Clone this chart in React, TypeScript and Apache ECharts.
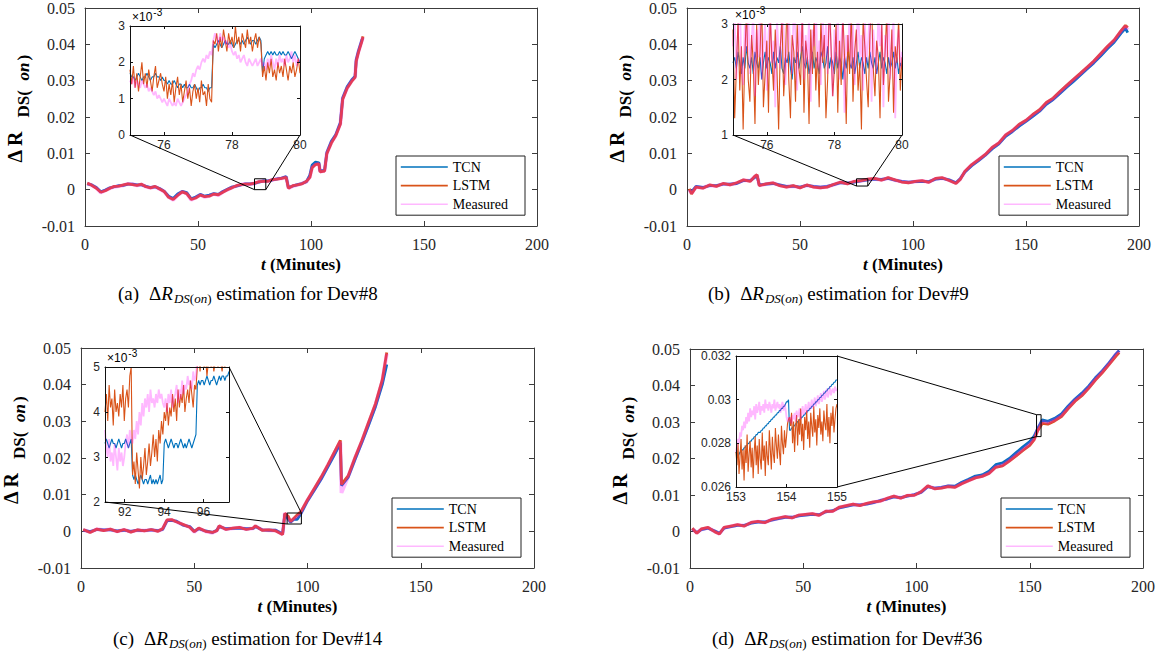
import React, { useEffect, useRef } from 'react';
import * as echarts from 'echarts';

const SERIF = 'Liberation Serif';
const SANS = 'Liberation Sans';
const C_TCN = '#0072BD';
const C_LSTM = '#D95319';
const C_MEAS = '#FF00FF';
const MEAS_OPACITY = 0.28;
const SERIES_NAMES = ['TCN', 'LSTM', 'Measured'];

// ---------- Panel (a) Dev#8 : main plot (values in 1e-4) ----------
const tA = [1,3,5,7,9, 11,13,15,17,19, 21,23,25,27,29, 31,33,35,37,39, 41,43,45,47,49, 51,53,55,57,59, 61,63,65,67,69, 71,73,75,77,79, 81,83,85,87,89, 90,92,94,96,98, 99.5,100.5,102,103.5,104, 106,107,109,111,113, 114,116,118,119.5,120, 121,122.5,123];
const measA = [17,12,5,-8,-2, 4,8,10,12,16, 15,12,14,8,5, 8,2,-5,-20,-28, -15,-6,-10,-28,-22, -14,-20,-17,-12,-15, -6,0,6,10,14, 16,15,17,22,24, 23,27,30,31,35, 4,10,13,17,22, 35,62,70,72,50, 52,100,130,150,182, 250,280,300,310,355, 380,410,420];
const tcnA = [16,13,6,-6,-1, 5,8,11,12,15, 15,13,13,9,6, 8,3,-4,-18,-24, -12,-5,-8,-25,-20, -13,-18,-15,-11,-13, -5,1,7,10,13, 16,16,17,21,24, 24,27,30,32,36, 6,10,14,17,22, 40,68,76,74,52, 53,102,133,152,185, 252,283,302,312,357, 382,412,418];
const lstmA = [18,12,4,-7,-3, 4,9,10,13,16, 14,12,15,8,5, 9,2,-5,-21,-27, -16,-6,-11,-27,-23, -15,-19,-18,-12,-14, -7,0,5,11,14, 15,15,18,22,23, 23,28,29,31,34, 4,11,13,16,23, 34,60,69,71,49, 51,99,128,149,180, 248,279,298,309,353, 378,408,422];

// inset (a): t = 75 .. 80, step 0.05
const insTcnA = [17,16,16,15,16,17,16,15,16,16, 17,16,15,16,16,17,16,16,15,16, 15,15,14,15,14,14,15,14,13,14, 14,13,14,13,13,14,13,13,14,13, 12,13,13,14,13,13,12,13,13,25, 24,25,26,25,24,25,26,25,25,26, 25,24,25,26,26,25,26,25,26,27, 26,25,26,26,25,26,27,26,17,21, 22,23,22,23,22,23,22,22,23,22, 23,22,22,23,22,21,22,23,22,21,20];
const insLstmA = [18,14,19,13,17,12,16,20,14,17, 13,18,15,12,16,19,13,15,17,14, 12,16,10,14,11,15,9,13,16,11, 14,9,12,15,10,13,8,12,14,10, 13,9,15,11,12,8,14,10,9,26, 25,28,23,27,24,29,26,23,28,25, 27,24,30,25,27,23,28,26,24,29, 25,27,23,26,28,24,27,25,16,19, 15,20,17,21,16,18,15,20,17,19, 16,21,18,15,19,17,20,16,18,21,17];
const insMeasA = [15,14,16,13,15,14,13,15,14,13, 14,12,13,12,11,12,10,11,10,9, 10,9,8,10,9,8,9,8,10,9, 8,9,10,11,12,14,15,17,16,18, 19,18,20,21,20,22,21,23,22,26, 28,27,25,28,26,27,25,26,24,25, 23,22,23,21,22,20,21,22,20,19, 21,20,19,20,21,19,20,21,19,20, 18,21,19,22,20,18,21,19,22,20, 21,19,22,20,21,23,20,22,19,21,20];

// ---------- Panel (b) Dev#9 ----------
const tB = [1,2,4,7,10,13,16,19,22,25, 28,30,31,32,35,38,41,44,47,50, 53,56,59,62,65,68,71,74,77,80, 83,86,89,92,95,98,101,104,107,110, 113,116,119,121,123,126,129,132,135,138, 141,144,147,150,153,156,159,162,165,168, 171,174,177,180,183,186,189,192,194,195];
const measB = [0,-10,8,5,12,10,16,14,18,26, 24,36,40,12,15,18,12,8,10,6, 12,8,6,8,14,20,17,22,24,28, 30,27,32,26,22,20,22,24,21,30, 32,26,18,30,50,68,82,96,115,128, 150,162,178,190,205,218,238,250,268,285, 302,318,335,352,372,392,410,435,450,440];
const tcnB = [0,-6,9,6,11,11,15,15,17,25, 25,34,38,13,15,17,13,9,10,7, 12,9,7,9,14,19,18,21,24,27, 29,28,31,26,23,21,22,23,22,29, 31,27,19,31,49,66,80,95,112,126, 147,160,175,188,202,216,235,248,265,282, 298,315,332,349,368,388,406,430,444,432];
const lstmB = [2,-12,7,4,13,9,17,13,19,27, 23,37,41,11,16,19,11,7,11,5, 13,7,5,7,15,21,16,23,25,29, 31,26,33,27,21,19,23,25,20,31, 33,25,17,29,51,69,83,97,116,129, 151,163,180,191,207,220,240,252,270,287, 304,320,337,354,374,394,412,437,452,446];

// inset (b): t = 75 .. 80, step 0.05
const insTcnB = [23,24,22,25,23,21,24,22,26,23, 22,24,21,25,23,22,24,20,23,25, 22,24,23,21,25,22,24,23,26,22, 21,24,23,25,22,20,24,23,25,22, 24,26,23,22,24,21,23,25,22,24, 23,21,25,24,22,23,26,22,24,23, 21,25,22,24,23,20,24,22,25,23, 22,24,21,23,25,22,24,23,21,24, 22,25,23,22,24,21,23,25,22,24, 23,21,24,22,23,25,22,24,21,23,22];
const insLstmB = [29,13,22,31,18,26,11,24,33,20, 16,28,23,12,30,19,25,34,15,21, 27,14,32,24,18,29,22,11,26,31, 17,23,35,20,13,28,25,16,30,22, 19,33,14,27,24,12,29,21,32,18, 25,15,31,23,28,13,20,34,26,17, 22,30,14,27,19,32,24,12,28,21, 33,16,25,29,18,23,11,31,26,20, 15,28,34,22,17,27,24,13,30,19, 25,32,16,21,29,14,26,23,31,18,24];
const insMeasB = [26,31,20,28,35,22,19,30,25,33, 21,27,32,17,29,24,34,20,26,30, 18,28,33,23,27,15,31,25,22,34, 29,19,26,32,24,21,35,27,18,30, 25,33,20,28,23,31,16,29,26,34, 22,27,19,32,24,30,21,35,26,17, 29,23,33,20,27,31,14,28,25,32, 22,30,19,26,34,24,28,18,31,23, 27,33,16,29,25,21,32,26,30,15, 28,24,34,20,27,31,13,26,29,22,25];

// ---------- Panel (c) Dev#14 ----------
const tC = [1,4,7,10,13,16,19,22,25,28, 31,34,36,38,40,42,45,48,50,52, 55,58,60,61,64,67,70,73,76,77, 80,83,86,89,90,91.5,92.5,94,95.5,97, 100,103,106,109,112,114.5,115,118,121,124, 127,130,133,135];
const measC = [4,-2,6,3,5,0,4,-1,3,2, 4,1,6,30,31,27,18,12,-2,8, 0,-4,2,14,6,8,10,6,8,14, 4,3,2,-8,50,35,26,34,40,50, 85,115,145,180,215,245,105,150,200,245, 295,345,410,485];
const tcnC = [3,-1,5,4,4,1,3,0,3,2, 4,2,5,29,30,28,17,13,0,7, 1,-3,3,13,7,8,9,7,8,13, 4,3,3,-7,47,33,25,33,33,47, 83,112,142,176,210,240,125,148,196,242, 290,340,400,455];
const lstmC = [5,-3,6,2,6,-1,5,-2,4,1, 5,0,7,31,32,26,19,11,-1,9, 0,-3,2,15,5,9,11,5,9,15, 3,4,1,-9,49,41,27,36,45,53, 86,117,148,182,218,248,128,152,202,248, 298,348,413,488];

// inset (c): t = 91 .. 97.3, step 0.07
const insTcnC = [33,34,33,32,33,34,33,33,32,33, 34,33,32,33,33,34,33,32,33,34, 26,25,26,25,24,25,26,25,24,25, 25,24,25,26,24,25,24,25,24,25, 26,24,25, 33,34,33,32,33,34,33,32,33,33, 32,33,34,33,32,33,32,33,34,33, 32,33,34,35, 46,47,46,47,47,46,47,48,47,46, 47,47,48,47,46,47,48,47,48,48, 47,48,48,49];
const insLstmC = [40,44,38,46,41,43,37,45,40,42, 39,44,41,46,38,43,45,41,48,50, 26,29,24,31,27,23,30,25,28,32, 26,29,33,28,31,35,30,34,29,36, 33,38,35, 40,38,42,37,41,39,44,40,43,38, 45,41,44,42,46,40,43,45,42,47, 44,41,46,45, 50,52,49,53,51,50,52,48,51,53, 50,52,49,51,53,50,52,51,49,52, 50,53,51,52];
const insMeasC = [36,32,30,34,29,31,28,33,30,27, 32,29,31,28,30,33,35,32,36,34, 33,36,34,38,35,40,37,42,39,43, 41,44,40,45,42,43,41,44,42,45, 43,44,42, 41,43,40,44,42,45,41,43,44,46, 42,45,43,47,44,46,45,48,46,47, 45,49,47,48, 52,54,51,55,53,52,54,51,53,55, 52,54,53,51,55,52,54,53,52,55, 53,54,52,55];

// ---------- Panel (d) Dev#36 ----------
const tD = [1,3,5,8,11,13,15,18,21,24, 27,30,33,36,39,42,45,48,51,54, 57,60,63,66,69,72,75,78,81,84, 87,90,93,96,99,102,105,108,111,114, 117,120,123,126,129,132,135,138,141,144, 147,150,152,153.5,155.5,158,161,164,167,170, 173,176,179,182,185,188,189.5];
const measD = [8,-4,6,10,0,-6,10,14,18,16, 24,27,25,32,36,40,38,44,46,48, 45,55,56,66,70,74,72,76,80,84, 90,96,92,98,100,108,124,118,120,124, 122,132,140,148,152,160,178,182,195,210, 225,240,255,280,302,298,306,318,340,360, 375,395,418,438,460,485,495];
const tcnD = [7,-3,5,9,1,-5,9,13,17,17, 23,26,26,31,35,39,39,43,45,47, 46,54,57,65,69,73,73,75,79,85, 89,95,93,97,101,107,123,119,121,125, 124,135,143,152,155,165,183,188,200,216, 232,246,262,282,306,302,310,322,344,363, 379,398,421,440,462,486,496];
const lstmD = [9,-5,7,11,-1,-7,11,15,19,15, 25,28,24,33,37,41,37,45,47,49, 44,56,55,67,71,75,71,77,81,83, 91,97,91,99,99,109,125,117,119,123, 121,131,139,147,151,159,176,180,193,207, 222,236,252,276,296,294,303,315,337,357, 372,392,415,435,457,480,490];

// inset (d): t = 153 .. 155, step 0.02
const insTcnD = [276,275,274,275,276,276,277,277,278,278, 279,279,280,280,281,281,282,282,283,283, 284,284,285,285,285,286,286,287,287,288, 288,289,289,290,290,291,291,292,292,293, 293,294,294,295,295,296,296,297,297,298, 299,299,300, 286,286,287,287,288,288,289,289,290,290, 291,291,292,292,293,293,294,294,295,295, 296,296,297,297,298,298,299,299,300,300, 301,301,302,302,303,303,304,304,305,305, 306,306,307,307,308,308,309,309];
const insLstmD = [276,270,280,266,274,282,268,277,263,279, 271,284,267,275,281,269,278,264,276,283, 270,279,266,282,273,268,285,272,279,265, 281,274,270,286,277,268,283,275,271,287, 279,273,284,276,270,288,280,275,286,278, 283,289,291, 292,288,294,280,290,276,287,293,279,291, 284,296,281,289,277,292,286,295,282,290, 278,294,288,283,297,285,291,279,293,287, 296,284,290,281,295,289,286,298,283,292, 280,294,288,297,285,291,296,298];
const insMeasD = [276,279,282,280,285,283,288,286,290,287, 292,289,294,290,296,292,295,293,297,291, 298,294,296,299,293,297,295,298,294,300, 296,298,295,299,297,294,298,296,300,295, 297,299,296,298,294,297,299,295,298,296, 292,290,292, 290,292,289,293,291,294,290,295,292,293, 296,291,294,297,293,295,298,294,296,299, 295,297,300,296,298,301,297,299,302,298, 300,303,299,301,304,300,302,305,301,303, 306,302,304,305,303,306,304,305];

// ---------- axis settings ----------
const MAIN_X = { min: 0, max: 200, interval: 50 };
const MAIN_Y = { min: -0.01, max: 0.05, interval: 0.01 };

const panels = [
  {
    label: 'a', dev: '8',
    main: { left: 85, top: 7, width: 452, height: 219 },
    inset: { left: 130, top: 26, width: 170, height: 109 },
    t: tA, tcn: tcnA, lstm: lstmA, meas: measA,
    ins: { t0: 75, dt: 0.05, tcn: insTcnA, lstm: insLstmA, meas: insMeasA, xMin: 75, xMax: 80, xTicks: [76, 78, 80], xInterval: 0, yMin: 0, yMax: 0.003, yStep: 0.001, milli: true },
    links: [['bl', 'bl'], ['br', 'br']],
    legend: { left: 396, top: 156 },
    caption: { x: 118, y: 293 },
  },
  {
    label: 'b', dev: '9',
    main: { left: 687, top: 7, width: 452, height: 219 },
    inset: { left: 733, top: 24, width: 169, height: 111 },
    t: tB, tcn: tcnB, lstm: lstmB, meas: measB,
    ins: { t0: 75, dt: 0.05, tcn: insTcnB, lstm: insLstmB, meas: insMeasB, xMin: 75, xMax: 80, xTicks: [76, 78, 80], xInterval: 0, yMin: 0.001, yMax: 0.003, yStep: 0.001, milli: true },
    links: [['bl', 'bl'], ['br', 'br']],
    legend: { left: 999, top: 156 },
    caption: { x: 708, y: 293 },
  },
  {
    label: 'c', dev: '14',
    main: { left: 81, top: 348, width: 453, height: 220 },
    inset: { left: 105, top: 367, width: 124, height: 135 },
    t: tC, tcn: tcnC, lstm: lstmC, meas: measC,
    ins: { t0: 91, dt: 0.07, tcn: insTcnC, lstm: insLstmC, meas: insMeasC, xMin: 91, xMax: 97.3, xTicks: [92, 94, 96], xInterval: 0, yMin: 0.002, yMax: 0.005, yStep: 0.001, milli: true },
    links: [['bl', 'bl'], ['tr', 'tr']],
    legend: { left: 392, top: 498 },
    caption: { x: 113, y: 638 },
  },
  {
    label: 'd', dev: '36',
    main: { left: 690, top: 349, width: 453, height: 219 },
    inset: { left: 736, top: 356, width: 101, height: 131 },
    t: tD, tcn: tcnD, lstm: lstmD, meas: measD,
    ins: { t0: 153, dt: 0.02, tcn: insTcnD, lstm: insLstmD, meas: insMeasD, xMin: 153, xMax: 155, xTicks: null, xInterval: 1, yMin: 0.026, yMax: 0.032, yStep: 0.002, milli: false },
    links: [['tr', 'tl'], ['br', 'bl']],
    legend: { left: 1001, top: 498 },
    caption: { x: 712, y: 638 },
  },
];

function pairs(ts: number[], vs: number[]) {
  return vs.map((v, i) => [ts[i], v / 1e4]);
}
function gridPairs(t0: number, dt: number, vs: number[]) {
  return vs.map((v, i) => [Math.round((t0 + i * dt) * 1e4) / 1e4, v / 1e4]);
}

let _ctx: CanvasRenderingContext2D | null = null;
function tw(text: string, size: number, family: string, weight = 'normal', style = 'normal') {
  if (!_ctx) _ctx = document.createElement('canvas').getContext('2d');
  if (!_ctx) return text.length * size * 0.5;
  _ctx.font = `${style} ${weight} ${size}px "${family}"`;
  return _ctx.measureText(text).width;
}

const MAIN_AXIS_COLOR = '#3c3c3c';
const INS_AXIS_COLOR = '#111';

function xAxisDef(gridIndex: number, inset: boolean, top: boolean, cfg: any) {
  const col = inset ? INS_AXIS_COLOR : MAIN_AXIS_COLOR;
  const a: any = {
    type: 'value', gridIndex, min: cfg.min, max: cfg.max, position: top ? 'top' : 'bottom',
    axisLine: { show: true, onZero: false, lineStyle: { color: col, width: 1 } },
    axisTick: { show: true, inside: true, length: inset ? 3 : 5, lineStyle: { color: col, width: 1 } },
    axisLabel: {
      show: !top, margin: inset ? 4 : 10, color: '#262626',
      fontFamily: inset ? SANS : SERIF, fontSize: inset ? 12 : 16,
    },
    splitLine: { show: false },
  };
  if (cfg.interval) a.interval = cfg.interval;
  if (cfg.ticks) {
    a.axisTick.customValues = cfg.ticks;
    a.axisLabel.customValues = cfg.ticks;
  }
  return a;
}

function yAxisDef(gridIndex: number, inset: boolean, right: boolean, cfg: any, fmt: (v: number) => string) {
  const col = inset ? INS_AXIS_COLOR : MAIN_AXIS_COLOR;
  return {
    type: 'value', gridIndex, min: cfg.min, max: cfg.max, interval: cfg.interval, position: right ? 'right' : 'left',
    axisLine: { show: true, onZero: false, lineStyle: { color: col, width: 1 } },
    axisTick: { show: true, inside: true, length: inset ? 3 : 5, lineStyle: { color: col, width: 1 } },
    axisLabel: {
      show: !right, margin: inset ? 5 : 10, color: '#262626',
      fontFamily: inset ? SANS : SERIF, fontSize: inset ? 12 : 16, formatter: fmt,
    },
    splitLine: { show: false },
  };
}

const mainYFmt = (v: number) => (Math.abs(v) < 1e-9 ? '0' : v.toFixed(2));
const milliFmt = (v: number) => String(Math.round(v * 1000));
const plainFmt = (v: number) => String(parseFloat(v.toFixed(3)));

function lineSeries(name: string, g: number, data: number[][], inset: boolean) {
  const color = name === 'TCN' ? C_TCN : name === 'LSTM' ? C_LSTM : C_MEAS;
  const isMeas = name === 'Measured';
  const width = inset ? (isMeas ? 1.8 : 1.1) : (isMeas ? 3.8 : 2.8);
  return {
    type: 'line', name, xAxisIndex: 2 * g, yAxisIndex: 2 * g, data,
    symbol: 'none', showSymbol: false, silent: true, clip: true,
    color, itemStyle: { color },
    lineStyle: { color, width, opacity: isMeas ? MEAS_OPACITY : 1 },
    emphasis: { disabled: true },
    z: inset ? 6 : 2,
  };
}

function buildOption() {
  const grid: any[] = [];
  const xAxis: any[] = [];
  const yAxis: any[] = [];
  const series: any[] = [];
  panels.forEach((p, k) => {
    const gm = 2 * k;
    const gi = 2 * k + 1;
    grid.push({ ...p.main, show: false });
    grid.push({ ...p.inset, show: true, backgroundColor: '#fff', borderWidth: 0, z: 4 });
    xAxis.push(xAxisDef(gm, false, false, MAIN_X));
    xAxis.push(xAxisDef(gm, false, true, MAIN_X));
    yAxis.push(yAxisDef(gm, false, false, MAIN_Y, mainYFmt));
    yAxis.push(yAxisDef(gm, false, true, MAIN_Y, mainYFmt));
    const ix = { min: p.ins.xMin, max: p.ins.xMax, interval: p.ins.xInterval, ticks: p.ins.xTicks };
    const iy = { min: p.ins.yMin, max: p.ins.yMax, interval: p.ins.yStep };
    const f = p.ins.milli ? milliFmt : plainFmt;
    const xb = xAxisDef(gi, true, false, ix);
    const xt = xAxisDef(gi, true, true, ix);
    const yl = yAxisDef(gi, true, false, iy, f);
    const yr = yAxisDef(gi, true, true, iy, f);
    [xb, xt, yl, yr].forEach((a: any) => { a.z = 8; });
    xAxis.push(xb, xt);
    yAxis.push(yl, yr);
    series.push(lineSeries('TCN', gm, pairs(p.t, p.tcn), false));
    series.push(lineSeries('LSTM', gm, pairs(p.t, p.lstm), false));
    series.push(lineSeries('Measured', gm, pairs(p.t, p.meas), false));
    series.push(lineSeries('TCN', gi, gridPairs(p.ins.t0, p.ins.dt, p.ins.tcn), true));
    series.push(lineSeries('LSTM', gi, gridPairs(p.ins.t0, p.ins.dt, p.ins.lstm), true));
    series.push(lineSeries('Measured', gi, gridPairs(p.ins.t0, p.ins.dt, p.ins.meas), true));
  });
  const legend = panels.map((p) => ({
    data: SERIES_NAMES, orient: 'vertical', left: p.legend.left, top: p.legend.top,
    itemWidth: 47, itemHeight: 14, itemGap: 4.6, padding: [4, 17, 4, 4],
    borderColor: '#222', borderWidth: 1, borderRadius: 0, backgroundColor: '#fff',
    selectedMode: false, z: 20,
    textStyle: { fontFamily: SERIF, fontSize: 14, color: '#000' },
    lineStyle: { width: 1.6 },
    itemStyle: { opacity: 0 },
  }));
  return {
    animation: false,
    backgroundColor: '#fff',
    textStyle: { fontFamily: SERIF },
    grid, xAxis, yAxis, series, legend,
  };
}

type Frag = { t: string; s: number; w?: string; i?: boolean; dy?: number; gap?: number; fam?: string };

function hFrags(x0: number, y: number, frags: Frag[]) {
  let x = x0;
  return frags.map((f) => {
    const fam = f.fam || SERIF;
    const el = {
      type: 'text', x, y: y + (f.dy || 0), silent: true, z: 100,
      style: {
        text: f.t, fontSize: f.s, fontFamily: fam, fontWeight: f.w || 'normal',
        fontStyle: f.i ? 'italic' : 'normal', fill: '#000', align: 'left', verticalAlign: 'middle',
      },
    };
    x += tw(f.t, f.s, fam, f.w || 'normal', f.i ? 'italic' : 'normal') + (f.gap || 0);
    return el;
  });
}
function fragsWidth(frags: Frag[]) {
  return frags.reduce((s, f) => s + tw(f.t, f.s, f.fam || SERIF, f.w || 'normal', f.i ? 'italic' : 'normal') + (f.gap || 0), 0);
}

function vText(x: number, y: number, text: string, size: number, weight: string, italic: boolean) {
  return {
    type: 'text', x, y, rotation: Math.PI / 2, silent: true, z: 100,
    style: {
      text, fontSize: size, fontFamily: SERIF, fontWeight: weight, fontStyle: italic ? 'italic' : 'normal',
      fill: '#000', align: 'left', verticalAlign: 'middle',
    },
  };
}

function buildGraphics(chart: any) {
  const els: any[] = [];
  panels.forEach((p, k) => {
    const sMain = 6 * k;
    const sIns = 6 * k + 3;
    const P = (si: number, x: number, y: number) => chart.convertToPixel({ seriesIndex: si }, [x, y]) as number[];
    const ins = p.ins;
    const corner = (si: number, c: string) => P(si, c[1] === 'l' ? ins.xMin : ins.xMax, c[0] === 'b' ? ins.yMin : ins.yMax);
    const r0 = P(sMain, ins.xMin, ins.yMax);
    const r1 = P(sMain, ins.xMax, ins.yMin);
    els.push({
      type: 'rect', silent: true, z: 90,
      shape: { x: r0[0], y: r0[1], width: r1[0] - r0[0], height: r1[1] - r0[1] },
      style: { fill: 'none', stroke: '#000', lineWidth: 1 },
    });
    p.links.forEach(([a, b]) => {
      const pa = corner(sIns, a);
      const pb = corner(sMain, b);
      els.push({
        type: 'line', silent: true, z: 90,
        shape: { x1: pa[0], y1: pa[1], x2: pb[0], y2: pb[1] },
        style: { stroke: '#000', lineWidth: 1 },
      });
    });
    if (ins.milli) {
      els.push(...hFrags(p.inset.left + 2, p.inset.top - 9.5, [
        { t: '\u00d710', s: 12, fam: SANS, gap: 1 },
        { t: '-3', s: 10, fam: SANS, dy: -4 },
      ]));
    }
    const xn: Frag[] = [
      { t: 't', s: 17, w: 'bold', i: true },
      { t: ' (Minutes)', s: 17, w: 'bold' },
    ];
    const cx = p.main.left + p.main.width / 2 - 10;
    els.push(...hFrags(cx - fragsWidth(xn) / 2, p.main.top + p.main.height + 38, xn));
    const yc = p.main.top + p.main.height / 2;
    const xb = p.main.left - 70;
    const xs = p.main.left - 62;
    els.push(vText(xb, yc + 46, '\u0394 R', 20, 'bold', false));
    els.push(vText(xs, yc + 1, 'DS(', 17, 'bold', false));
    els.push(vText(xs, yc - 36, 'on', 17, 'bold', true));
    els.push(vText(xs, yc - 56, ')', 17, 'bold', false));
    const cap: Frag[] = [
      { t: `(${p.label})`, s: 19, gap: 10 },
      { t: '\u0394', s: 19 },
      { t: 'R', s: 19, i: true, gap: 1 },
      { t: 'DS', s: 13, i: true, dy: 5 },
      { t: '(', s: 13, dy: 5 },
      { t: 'on', s: 13, i: true, dy: 5 },
      { t: ')', s: 13, dy: 5 },
      { t: ` estimation for Dev#${p.dev}`, s: 19 },
    ];
    els.push(...hFrags(p.caption.x, p.caption.y, cap));
  });
  return els;
}

export default function App() {
  const ref = useRef<HTMLDivElement>(null);
  useEffect(() => {
    document.body.style.margin = '0';
    if (!ref.current) return;
    const chart = echarts.init(ref.current, null, { renderer: 'svg', width: 1158, height: 660 });
    chart.setOption(buildOption() as any);
    chart.setOption({ graphic: buildGraphics(chart) } as any);
    return () => chart.dispose();
  }, []);
  return <div ref={ref} style={{ width: 1158, height: 660 }} />;
}
